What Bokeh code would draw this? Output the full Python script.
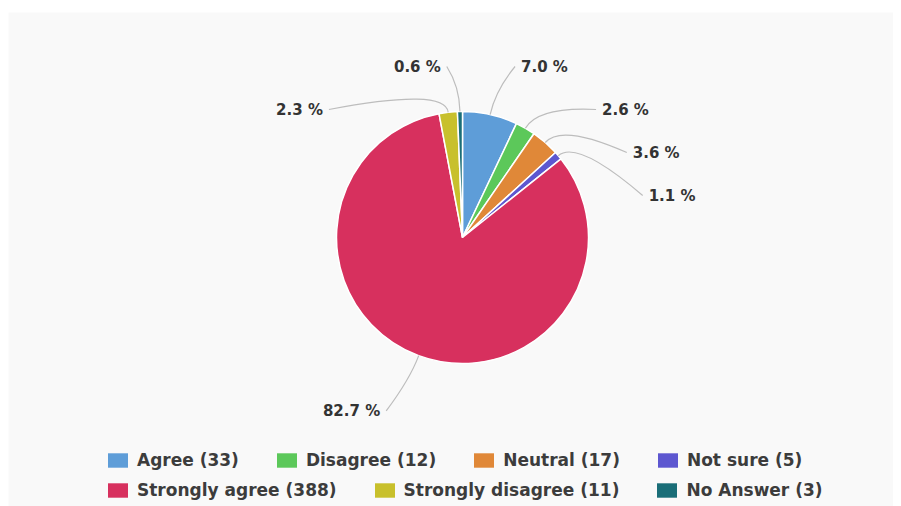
import math
import numpy as np
from bokeh.plotting import figure
from bokeh.models import ColumnDataSource, Range1d, Legend, LegendItem
from bokeh.core.properties import value
from bokeh.embed import file_html
from bokeh.resources import INLINE

# ---- data ----
categories = ["Agree", "Disagree", "Neutral", "Not sure",
              "Strongly agree", "Strongly disagree", "No Answer"]
counts = [33, 12, 17, 5, 388, 11, 3]
colors = ["#5e9dd8", "#5cc85a", "#e08838", "#5d57d0",
          "#d7305e", "#c8c02c", "#1a6e78"]

# ---- layout constants (pixels == data units) ----
W, H = 893, 506
LEFT, TOP = 8, 12
FW, FH = W - LEFT, H - TOP
CX, CY = 454, 269          # pie centre
R = 126                    # pie radius
R_LAB = 185                # label circle radius
Y_MAX = 171                # highest label offset above centre
STEP = 43                  # min vertical label spacing

total = float(sum(counts))
fracs = [c / total for c in counts]
cum = np.concatenate([[0.0], np.cumsum(fracs)])
start = math.pi / 2 - 2 * math.pi * cum[:-1]
end = math.pi / 2 - 2 * math.pi * cum[1:]
mid = (start + end) / 2
pct = ["%.1f %%" % (f * 100) for f in fracs]

src = ColumnDataSource(dict(cat=categories, cnt=counts, color=colors,
                            start=start, end=end,
                            legend=["%s (%d)" % (c, n) for c, n in zip(categories, counts)]))

p = figure(width=W, height=H, output_backend="svg", toolbar_location=None,
           x_range=Range1d(0, FW), y_range=Range1d(0, FH),
           min_border_left=LEFT, min_border_right=0, min_border_bottom=0,
           min_border_top=TOP, outline_line_color=None,
           background_fill_color="#f9f9f9", border_fill_color="white")
p.axis.visible = False
p.grid.visible = False

p.wedge(x=CX, y=CY, radius=R, start_angle="start", end_angle="end",
        direction="clock", fill_color="color", line_color="white",
        line_width=1.5, source=src)
legend_r = p.wedge(x=CX, y=CY, radius=0, start_angle="start", end_angle="end",
                   direction="clock", fill_color="color", line_color=None,
                   source=src)

# ---- label placement ----
nx = R_LAB * np.cos(mid)
ny = R_LAB * np.sin(mid)
lab_x = [0.0] * len(counts)
lab_y = [0.0] * len(counts)
side = [1 if math.cos(m) >= 0 else -1 for m in mid]
for s in (1, -1):
    idx = [i for i in range(len(counts)) if side[i] == s]
    idx.sort(key=lambda i: -ny[i])
    limit = Y_MAX
    for i in idx:
        y = min(ny[i], limit)
        limit = y - STEP
        if ny[i] - y > 20:
            dx = math.sqrt(max(R_LAB ** 2 - y ** 2, 0.0))
        else:
            dx = abs(nx[i]) + 12
        lab_x[i] = CX + s * dx
        lab_y[i] = CY + y

con = ColumnDataSource(dict(
    x0=[CX + R * math.cos(m) for m in mid],
    y0=[CY + R * math.sin(m) for m in mid],
    cx=[CX + (R + 25) * math.cos(m) for m in mid],
    cy=[CY + (R + 25) * math.sin(m) for m in mid],
    x1=lab_x, y1=lab_y))
p.quadratic(x0="x0", y0="y0", x1="x1", y1="y1", cx="cx", cy="cy",
            line_color="#bdbdbd", line_width=1.2, source=con)

for align, s in (("left", 1), ("right", -1)):
    ii = [i for i in range(len(counts)) if side[i] == s]
    p.text(x=[lab_x[i] + s * 6 for i in ii], y=[lab_y[i] for i in ii],
           text=[pct[i] for i in ii], text_align=align,
           text_baseline="middle", text_font=value("DejaVu Sans"),
           text_font_style="bold", text_font_size="15px",
           text_color="#333333")

# ---- legend: two flowing rows ----
def make_legend(indices, loc):
    lg = Legend(items=[LegendItem(label=src.data["legend"][i],
                                  renderers=[legend_r], index=i) for i in indices],
                orientation="horizontal", location=loc,
                glyph_width=25, glyph_height=18, label_height=18,
                label_standoff=7, spacing=35, padding=0, margin=0,
                border_line_color=None, background_fill_alpha=0,
                label_text_font="DejaVu Sans", label_text_font_style="bold",
                label_text_font_size="17px", label_text_color="#3c3c3c")
    p.add_layout(lg)

make_legend([0, 1, 2, 3], (97, 36))
make_legend([4, 5, 6], (97, 6))

open("out.html", "w").write(file_html(p, INLINE))
